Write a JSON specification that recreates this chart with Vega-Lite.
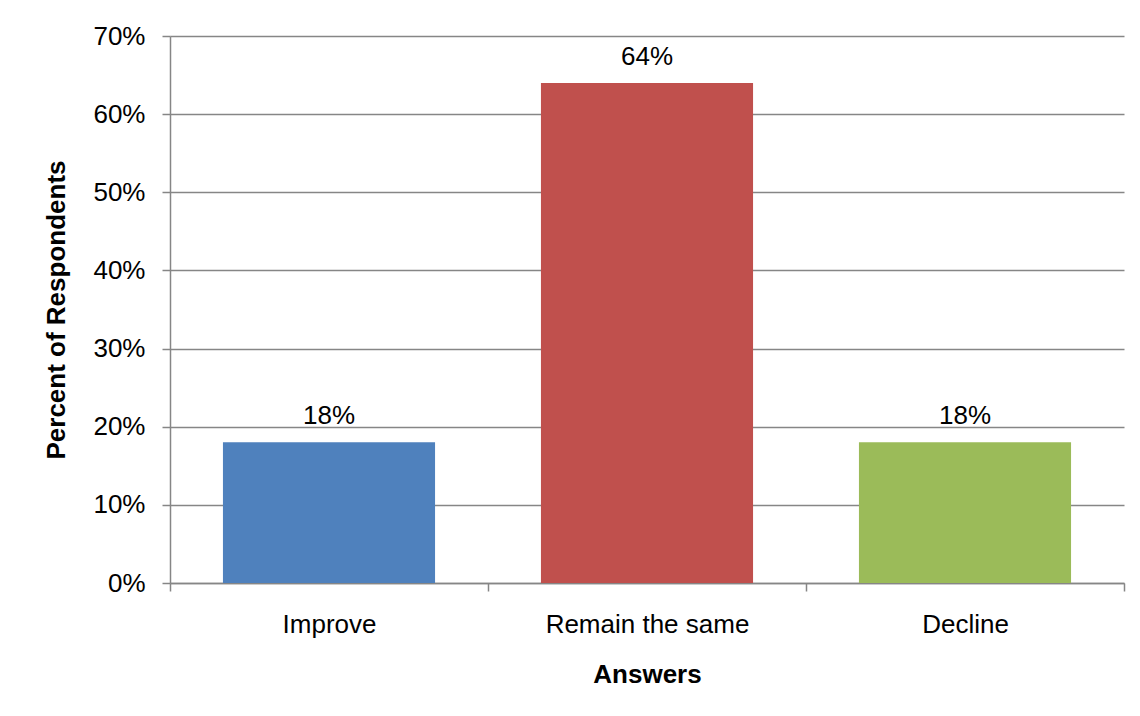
{
  "$schema": "https://vega.github.io/schema/vega-lite/v6.json",
  "autosize": "none",
  "padding": {"left": 170, "top": 36, "right": 16, "bottom": 133},
  "width": 954,
  "height": 547,
  "background": "white",
  "data": {
    "values": [
      {"answer": "Improve", "share": 0.18},
      {"answer": "Remain the same", "share": 0.64},
      {"answer": "Decline", "share": 0.18}
    ]
  },
  "encoding": {
    "x": {
      "field": "answer",
      "type": "nominal",
      "sort": null,
      "scale": {"paddingInner": 0, "paddingOuter": 0},
      "axis": {
        "title": "Answers",
        "labelAngle": 0,
        "labelLimit": 0,
        "tickBand": "extent",
        "tickSize": 8,
        "labelPadding": 20,
        "titlePadding": 24,
        "grid": false
      }
    },
    "y": {
      "field": "share",
      "type": "quantitative",
      "scale": {"domain": [0, 0.7], "nice": false},
      "axis": {
        "title": "Percent of Respondents",
        "format": ".0%",
        "values": [0, 0.1, 0.2, 0.3, 0.4, 0.5, 0.6, 0.7],
        "tickSize": 8,
        "labelPadding": 17,
        "titlePadding": 23,
        "grid": true
      }
    }
  },
  "layer": [
    {
      "mark": {"type": "bar", "width": {"band": 0.667}},
      "encoding": {
        "color": {
          "field": "answer",
          "type": "nominal",
          "sort": null,
          "scale": {
            "domain": ["Improve", "Remain the same", "Decline"],
            "range": ["#4F81BD", "#C0504D", "#9BBB59"]
          },
          "legend": null
        }
      }
    },
    {
      "mark": {
        "type": "text",
        "baseline": "alphabetic",
        "dy": -18,
        "font": "Liberation Sans",
        "fontSize": 26,
        "color": "#000000"
      },
      "encoding": {
        "text": {"field": "share", "type": "quantitative", "format": ".0%"}
      }
    }
  ],
  "config": {
    "view": {"stroke": null},
    "axis": {
      "domainColor": "#868686",
      "domainWidth": 1.5,
      "tickColor": "#868686",
      "tickWidth": 1.5,
      "gridColor": "#868686",
      "gridWidth": 1.5,
      "labelFont": "Liberation Sans",
      "labelFontSize": 26,
      "labelColor": "#000000",
      "titleFont": "Liberation Sans",
      "titleFontSize": 26,
      "titleFontWeight": "bold",
      "titleColor": "#000000"
    }
  }
}
